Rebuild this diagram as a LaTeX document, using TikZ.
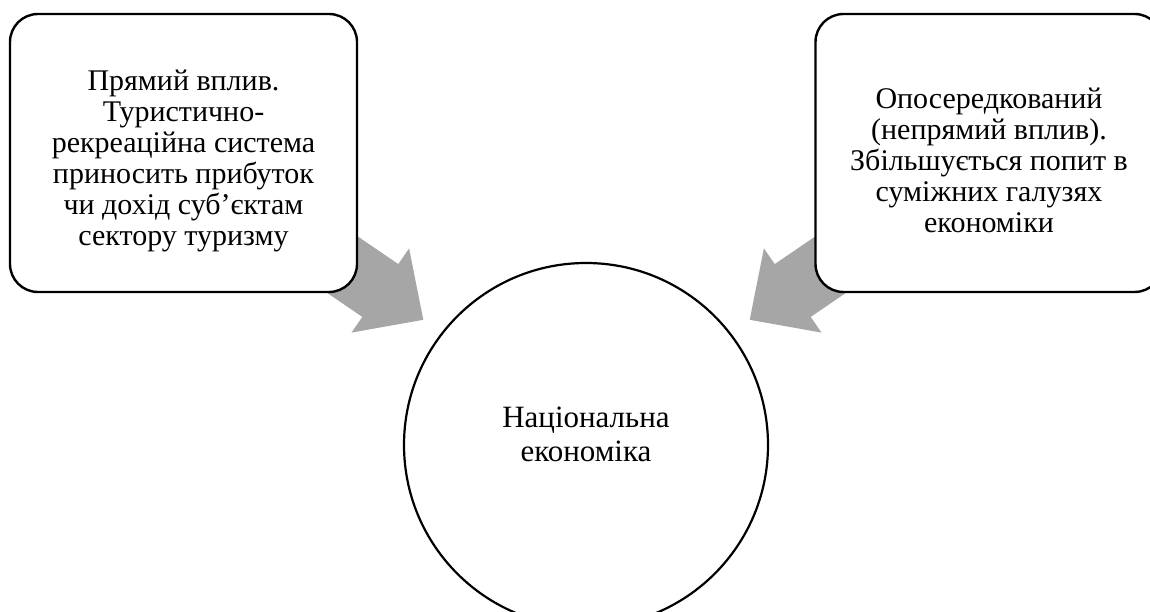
\documentclass[tikz,border=0pt]{standalone}
\usepackage{fontspec}
\setmainfont{Liberation Serif}
\definecolor{arrowgray}{RGB}{166,166,166}
\newcommand{\topstrut}{\rule{0pt}{36pt}}
\tikzset{
  infobox/.style={draw=black, line width=2.4pt, fill=white, rounded corners=28pt,
    minimum width=347pt, minimum height=278pt, align=center,
    font=\fontsize{30pt}{31pt}\selectfont, inner sep=0pt},
  hub/.style={draw=black, line width=2.2pt, fill=white, circle, minimum size=364pt, inner sep=0pt},
  hubtext/.style={align=center, font=\fontsize{31pt}{34pt}\selectfont, inner sep=0pt},
  blockarrow/.style={fill=arrowgray, draw=none}
}
\begin{document}
\begin{tikzpicture}[x=1pt, y=-1pt]
\useasboundingbox (0,0) rectangle (1150,612);
% left block arrow
\coordinate (la1) at (307.4,202.1);
\coordinate (la2) at (398.3,264.1);
\coordinate (la3) at (409.1,248.4);
\coordinate (latip) at (423.3,319.8);
\coordinate (la5) at (351.5,332.6);
\coordinate (la6) at (362.3,316.9);
\coordinate (la7) at (271.4,254.9);
\fill[blockarrow] (la1) -- (la2) -- (la3) -- (latip) -- (la5) -- (la6) -- (la7) -- cycle;
% right block arrow
\coordinate (ra1) at (865.6,202.1);
\coordinate (ra2) at (774.7,264.1);
\coordinate (ra3) at (763.9,248.4);
\coordinate (ratip) at (749.7,319.8);
\coordinate (ra5) at (821.5,332.6);
\coordinate (ra6) at (810.7,316.9);
\coordinate (ra7) at (901.6,254.9);
\fill[blockarrow] (ra1) -- (ra2) -- (ra3) -- (ratip) -- (ra5) -- (ra6) -- (ra7) -- cycle;
% boxes
\node[infobox] (direct) at (183.5,153) {\topstrut Прямий вплив.\\Туристично-\\рекреаційна система\\приносить прибуток\\чи дохід суб’єктам\\сектору туризму};
\node[infobox] (indirect) at (989,153) {\topstrut Опосередкований\\(непрямий вплив).\\Збільшується попит в\\суміжних галузях\\економіки};
% circle
\node[hub] (economy) at (586,445) {};
\node[hubtext] (economylabel) at ([yshift=11pt]economy.center) {Національна\\економіка};
\end{tikzpicture}
\end{document}
